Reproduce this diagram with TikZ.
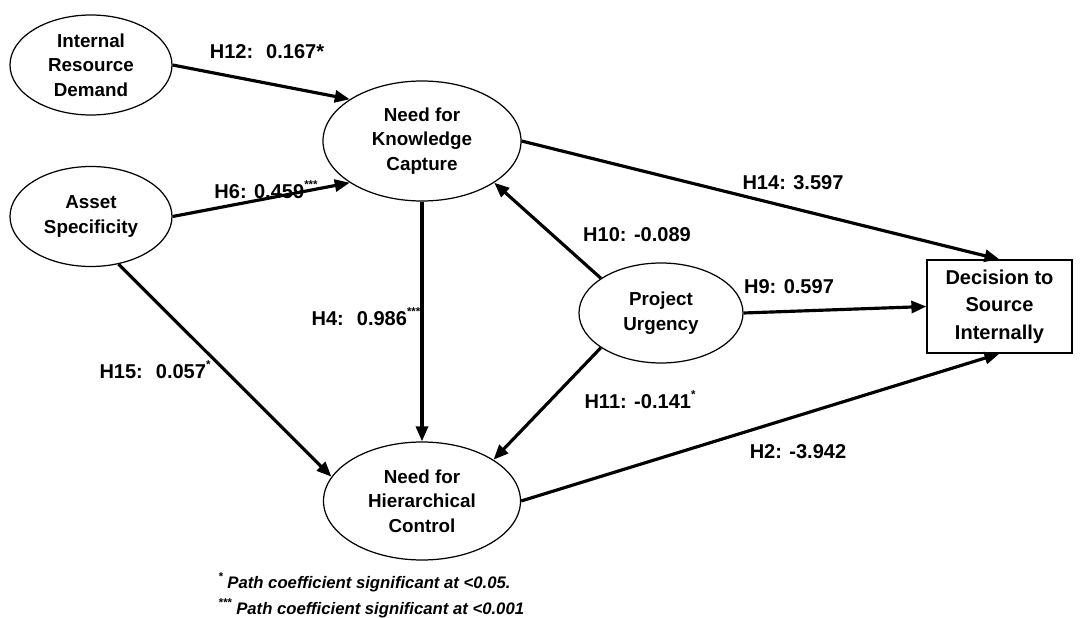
\documentclass[tikz,border=0pt]{standalone}
\usepackage{fontspec}
\setmainfont{Liberation Sans}
\usepackage{xcolor}
\usepackage{tikz}
\usetikzlibrary{arrows.meta,shapes.geometric}

\newcommand{\sig}[1]{\raisebox{.95ex}{\fontsize{6.5}{6.5}\selectfont #1}}

\begin{document}
\begin{tikzpicture}[
            >={Triangle[length=3mm,width=2.4mm]},
            construct/.style={ellipse, draw=black, line width=0.7pt, align=center, inner sep=0pt, font=\bfseries\fontsize{10.7}{13.9}\selectfont},
            outcome/.style={rectangle, draw=black, line width=0.7pt, align=center, inner sep=0pt, minimum width=29mm, minimum height=18.6mm, font=\bfseries\fontsize{11.4}{15.6}\selectfont},
            coef/.style={inner sep=0pt, font=\bfseries\fontsize{11.4}{13}\selectfont},
            note/.style={inner sep=0pt, anchor=west, font=\bfseries\itshape\fontsize{9.5}{11}\selectfont},
            arrow/.style={->, line width=1.8pt}
        ]
        \useasboundingbox (0,0) rectangle (21.7,-12.36);

        \node[construct, minimum width=32.4mm, minimum height=20mm] (ird) at (1.82,-1.30) {Internal\\Resource\\Demand};
        \node[construct, minimum width=32.4mm, minimum height=20mm] (asset) at (1.82,-4.33) {Asset\\Specificity};
        \node[construct, minimum width=39.6mm, minimum height=24mm] (nkc) at (8.44,-2.82) {Need for\\Knowledge\\Capture};
        \node[construct, minimum width=39.4mm, minimum height=23.6mm] (nhc) at (8.44,-10.02) {Need for\\Hierarchical\\Control};
        \node[construct, minimum width=32.8mm, minimum height=20mm] (pu) at (13.22,-6.26) {Project\\Urgency};
        \node[outcome] (dec) at (19.99,-6.13) {Decision to\\Source\\Internally};

        \node[coef] (h12) at (5.34,-1.04) {H12:~ 0.167*};
        \node[coef] (h6) at (5.32,-3.80) {H6: 0.459\sig{***}};
        \node[coef] (h14) at (15.86,-3.66) {H14: 3.597};
        \node[coef] (h10) at (12.74,-4.70) {H10: -0.089};
        \node[coef] (h9) at (15.78,-5.74) {H9: 0.597};
        \node[coef] (h4) at (7.32,-6.34) {H4:~ 0.986\sig{***}};
        \node[coef] (h15) at (3.10,-7.40) {H15:~ 0.057\sig{*}};
        \node[coef] (h11) at (12.80,-8.00) {H11: -0.141\sig{*}};
        \node[coef] (h2) at (15.96,-9.04) {H2: -3.942};

        \node[note] (n1) at (4.36,-11.64) {\sig{*} Path coefficient significant at <0.05.};
        \node[note] (n2) at (4.36,-12.16) {\sig{***} Path coefficient significant at <0.001};

        \draw[arrow] (ird.east) -- (nkc.150);
        \draw[arrow] (asset.east) -- (nkc.210);
        \draw[arrow] (asset.300) -- (nhc.165);
        \draw[arrow] (nkc) -- (nhc);
        \draw[arrow] (nkc.east) -- (dec.north);
        \draw[arrow] (pu.150) -- (nkc.330);
        \draw[arrow] (pu.210) -- (nhc.30);
        \draw[arrow] (pu.east) -- (dec.west);
        \draw[arrow] (nhc.east) -- (dec.south);
    \end{tikzpicture}
\end{document}
